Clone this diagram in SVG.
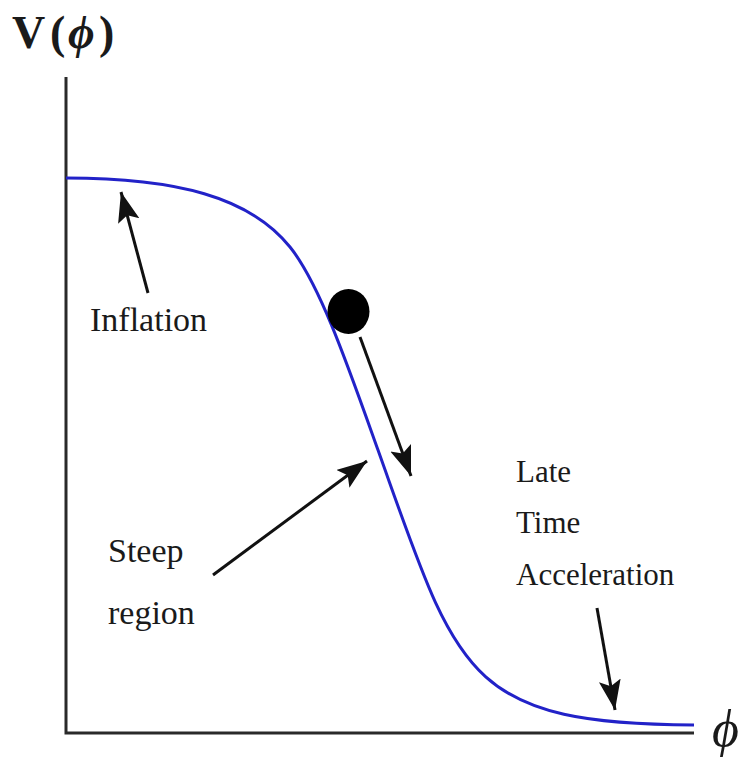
<svg xmlns="http://www.w3.org/2000/svg" width="744" height="760" viewBox="0 0 744 760">
  <style>
    .lbl { font-family: "Liberation Serif", "Times New Roman", serif; fill: #1a1a1a; }
    .big { font-size: 34px; }
    .small { font-size: 31px; }
    .axis { stroke: #2a2a2a; stroke-width: 3; fill: none; }
    .curve { stroke: #2222c8; stroke-width: 3; fill: none; }
    .arrow { stroke: #111; stroke-width: 3; fill: none; marker-end: url(#head); }
  </style>
  <defs>
    <marker id="head" markerUnits="userSpaceOnUse" markerWidth="32" markerHeight="24" refX="30" refY="11" orient="auto">
      <path d="M0,0 L30,11 L0,22 L6,11 Z" fill="#111"/>
    </marker>
  </defs>
  <rect width="744" height="760" fill="#fff"/>

  <g id="axes">
    <path class="axis" d="M66,77 L66,733 L694,733"/>
    <text class="lbl" x="12" y="48" font-size="46" font-weight="bold">V<tspan x="50">(</tspan><tspan x="68" font-style="italic">ϕ</tspan><tspan x="99">)</tspan></text>
    <text class="lbl" x="712" y="746" font-size="52" font-style="italic">ϕ</text>
  </g>

  <g id="potential">
    <path class="curve" d="M66,178 C176,178 250,197 290,247 C320,284.5 348,366 378,450 C458,674 464,724 694,725"/>
  </g>

  <g id="ball">
    <ellipse cx="348.5" cy="311.5" rx="21" ry="22.5" fill="#000"/>
  </g>

  <g id="label-inflation">
    <text class="lbl big" x="90" y="331">Inflation</text>
  </g>
  <g id="label-steep">
    <text class="lbl big" x="108" y="562">Steep</text>
    <text class="lbl big" x="108" y="624">region</text>
  </g>
  <g id="label-late">
    <text class="lbl small" x="516" y="482">Late</text>
    <text class="lbl small" x="516" y="533">Time</text>
    <text class="lbl small" x="516" y="585">Acceleration</text>
  </g>

  <g id="connectors">
    <line class="arrow" x1="148" y1="293" x2="121" y2="192"/>
    <line class="arrow" x1="360" y1="337" x2="411" y2="476"/>
    <line class="arrow" x1="213" y1="575" x2="367" y2="461"/>
    <line class="arrow" x1="597" y1="608" x2="615" y2="710"/>
  </g>
</svg>
